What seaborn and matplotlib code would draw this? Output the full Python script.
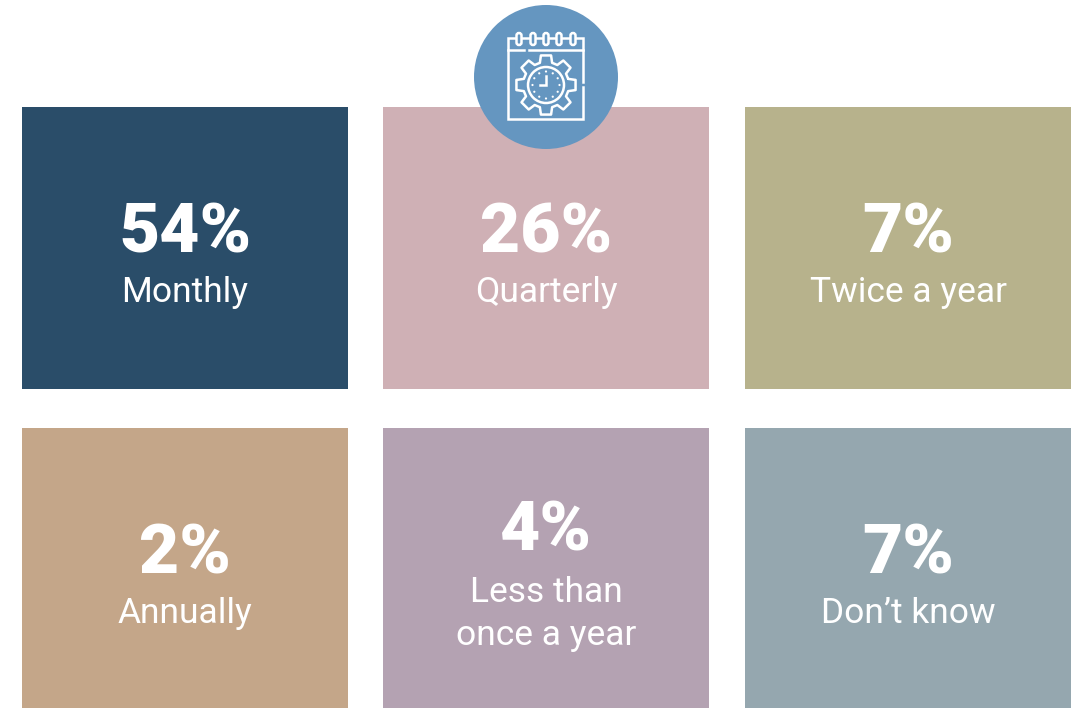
import numpy as np
import matplotlib
matplotlib.use('Agg')
import matplotlib.pyplot as plt
from matplotlib.colors import ListedColormap
from matplotlib.patches import Circle, FancyBboxPatch
import seaborn as sns

percent_values = [54, 26, 7, 2, 4, 7]
frequency_labels = ['Monthly', 'Quarterly', 'Twice a year', 'Annually',
                    'Less than\nonce a year', "Don\u2019t know"]
tile_colors = ['#2A4D69', '#CFB0B5', '#B7B28C', '#C4A689', '#B4A2B2', '#95A7AF']

W, H = 1078, 708
TILE_LEFT = [22, 383, 745]
TILE_TOP = [107, 428]
TILE_W, TILE_H = 326, 282
ICON_BLUE = '#6596C0'

sns.set_theme(style='white')
plt.rcParams['font.family'] = ['Roboto', 'DejaVu Sans']

fig = plt.figure(figsize=(W / 100, H / 100), dpi=100)

for i, (value, label, color) in enumerate(zip(percent_values, frequency_labels, tile_colors)):
    left = TILE_LEFT[i % 3]
    top = TILE_TOP[i // 3]
    ax = fig.add_axes([left / W, 1 - (top + TILE_H) / H, TILE_W / W, TILE_H / H])
    # one cell heatmap per tile, the colour comes from the palette list
    sns.heatmap([[value]], ax=ax, cmap=ListedColormap([color]), cbar=False,
                xticklabels=False, yticklabels=False)
    two_lines = '\n' in label
    ax.text(0.5, 0.37 if two_lines else 0.45, f'{value}%', color='white', fontsize=50,
            fontweight='black', ha='center', va='center')
    ax.text(0.5, 0.66 if two_lines else 0.657, label, color='white', fontsize=25.5,
            ha='center', va='center', linespacing=1.4)

# calendar and gear icon on top of the middle tile
icon = fig.add_axes([0, 0, 1, 1], facecolor='none')
icon.set_xlim(0, W)
icon.set_ylim(H, 0)
icon.axis('off')
icon.add_patch(Circle((546, 77), 72, color=ICON_BLUE, lw=0))

lw = 1.8
white = dict(color='white', lw=lw, solid_capstyle='projecting', solid_joinstyle='miter')
# calendar frame, with the small gap on the right side
icon.plot([583, 583, 508, 508, 583, 583], [82, 38, 38, 119, 119, 87], **white)
icon.plot([508, 524], [50, 50], **white)
icon.plot([529, 583], [50, 50], **white)
for cx in [519, 533, 546, 559, 573]:
    icon.add_patch(FancyBboxPatch((cx - 2.5, 33), 5, 12, boxstyle='round,pad=0,rounding_size=2.5',
                                  fc=ICON_BLUE, ec='white', lw=lw, zorder=3))

# gear outline
gx, gy = 546, 85
angles = []
radii = []
for k in range(8):
    base = k * np.pi / 4
    for off, r in [(-0.27, 23), (-0.17, 30), (0.17, 30), (0.27, 23)]:
        angles.append(base + off)
        radii.append(r)
angles.append(angles[0])
radii.append(radii[0])
icon.plot(gx + np.array(radii) * np.cos(angles), gy + np.array(radii) * np.sin(angles),
          color='white', lw=lw, solid_joinstyle='round')

# clock
icon.add_patch(Circle((gx, gy), 18, fc='none', ec='white', lw=lw))
for k in range(12):
    a = k * np.pi / 6
    icon.add_patch(Circle((gx + 13.5 * np.cos(a), gy + 13.5 * np.sin(a)), 1.1, color='white', lw=0))
icon.plot([gx - 6, gx, gx], [gy, gy, gy - 9], **white)

fig.savefig('out.png', dpi=100)
